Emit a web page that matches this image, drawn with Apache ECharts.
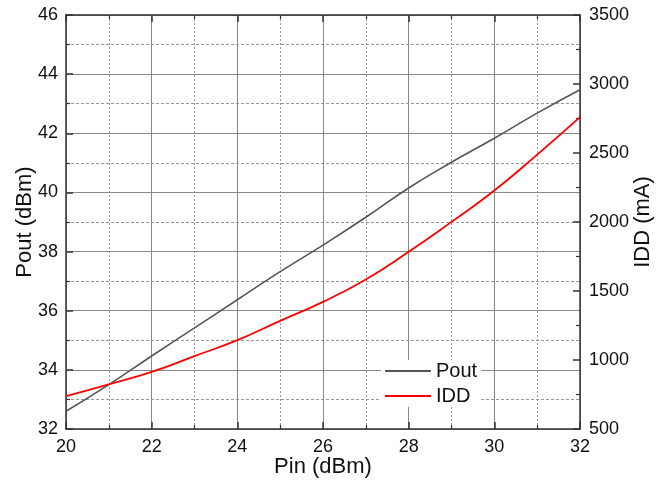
<!DOCTYPE html>
<html>
<head>
<meta charset="utf-8">
<script src="https://cdn.jsdelivr.net/npm/echarts@6/dist/echarts.min.js"></script>
<style>
    html, body {margin: 0; padding: 0; background: #fff;}
    #chartContainer {width: 670px; height: 480px;}
</style>
</head>
<body>
<div id="chartContainer"></div>
<script>
    // values
    const pin = [20, 21, 22, 23, 24, 25, 26, 27, 28, 29, 30, 31, 32];
    const pout = [32.6, 33.5, 34.47, 35.42, 36.37, 37.32, 38.22, 39.16, 40.15, 41.02, 41.83, 42.68, 43.47];
    const idd = [738, 823, 914, 1028, 1144, 1284, 1421, 1584, 1784, 2001, 2228, 2488, 2760];

    const font = 'Liberation Sans, Arial, sans-serif';

    let dom = document.getElementById('chartContainer');
    let myChart = echarts.init(dom, null, {renderer: 'canvas'});

    const axisLine = {show: true, onZero: false, lineStyle: {color: '#333', width: 1.5}};
    const tick = {inside: true, length: 7, lineStyle: {color: '#333', width: 1.5}};
    const minor = {show: true, splitNumber: 2, length: 4, lineStyle: {color: '#333', width: 1.2}};

    let option = {
        animation: false,
        backgroundColor: '#fff',
        grid: {left: 66, right: 90, top: 15, bottom: 51, containLabel: false, outerBoundsMode: 'none'},
        legend: {
            orient: 'vertical',
            left: 381,
            top: 360,
            itemWidth: 46,
            itemHeight: 2,
            itemGap: 5,
            backgroundColor: '#fff',
            padding: [1, 4, 1, 4],
            textStyle: {fontFamily: font, fontSize: 20, color: '#111'},
            data: [
                {name: 'Pout', icon: 'rect'},
                {name: 'IDD', icon: 'rect'}
            ]
        },
        xAxis: [
            {
                type: 'value',
                min: 20, max: 32, interval: 2,
                name: 'Pin (dBm)',
                nameLocation: 'middle',
                nameGap: 27,
                nameMoveOverlap: false,
                nameTextStyle: {fontFamily: font, fontSize: 22, color: '#111'},
                axisLine: axisLine,
                axisTick: tick,
                minorTick: minor,
                axisLabel: {fontFamily: font, fontSize: 18, color: '#111', margin: 9},
                splitLine: {show: true, lineStyle: {color: '#888', width: 1}},
                minorSplitLine: {show: true, lineStyle: {color: '#999', width: 1, type: [2, 2]}}
            },
            {
                type: 'value',
                position: 'top',
                min: 20, max: 32, interval: 2,
                axisLine: axisLine,
                axisTick: tick,
                minorTick: minor,
                axisLabel: {show: false},
                splitLine: {show: false}
            }
        ],
        yAxis: [
            {
                type: 'value',
                min: 32, max: 46, interval: 2,
                name: 'Pout (dBm)',
                nameLocation: 'middle',
                nameGap: 30,
                nameMoveOverlap: false,
                nameTextStyle: {fontFamily: font, fontSize: 22, color: '#111'},
                axisLine: axisLine,
                axisTick: tick,
                minorTick: minor,
                axisLabel: {fontFamily: font, fontSize: 18, color: '#111', margin: 8},
                splitLine: {show: true, lineStyle: {color: '#888', width: 1}},
                minorSplitLine: {show: true, lineStyle: {color: '#999', width: 1, type: [3, 2]}}
            },
            {
                type: 'value',
                min: 500, max: 3500, interval: 500,
                name: 'IDD (mA)',
                nameLocation: 'middle',
                nameGap: 52,
                nameMoveOverlap: false,
                nameTextStyle: {fontFamily: font, fontSize: 22, color: '#111'},
                axisLine: axisLine,
                axisTick: tick,
                minorTick: minor,
                axisLabel: {fontFamily: font, fontSize: 18, color: '#111', margin: 9, formatter: v => String(v)},
                splitLine: {show: false}
            }
        ],
        series: [
            {
                name: 'Pout',
                type: 'line',
                xAxisIndex: 0,
                yAxisIndex: 0,
                smooth: true,
                showSymbol: false,
                color: '#555',
                lineStyle: {color: '#555', width: 1.6},
                data: pin.map((x, i) => [x, pout[i]])
            },
            {
                name: 'IDD',
                type: 'line',
                xAxisIndex: 0,
                yAxisIndex: 1,
                smooth: true,
                showSymbol: false,
                color: '#ff0000',
                lineStyle: {color: '#ff0000', width: 1.8},
                data: pin.map((x, i) => [x, idd[i]])
            }
        ]
    };

    myChart.setOption(option);
</script>
</body>
</html>
